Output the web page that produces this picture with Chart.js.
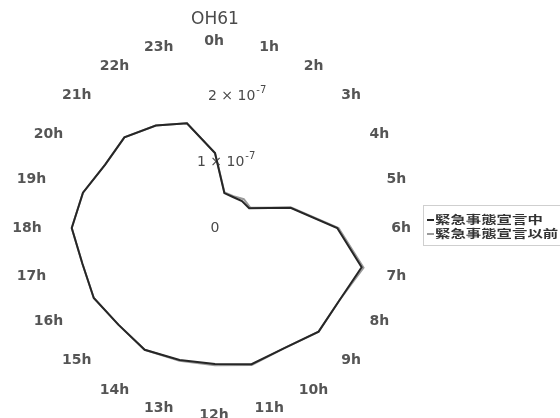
<!DOCTYPE html>
<html>
<head>
<meta charset="utf-8">
<script src="https://cdn.jsdelivr.net/npm/chart.js@4.4.1/dist/chart.umd.min.js"></script>
<style>
  html, body { margin: 0; padding: 0; background: #fff; }
  #wrap { width: 560px; height: 418px; position: relative; }
</style>
</head>
<body>
<div id="wrap"><canvas id="c" width="560" height="418"></canvas></div>
<script>
// Hour-of-day categories around the dial (clockwise from the top)
const hourLabels = ['0h','1h','2h','3h','4h','5h','6h','7h','8h','9h','10h','11h',
                    '12h','13h','14h','15h','16h','17h','18h','19h','20h','21h','22h','23h'];

// Mean level for each hour, during the state of emergency
const duringValues = [1.14e-7, 0.55e-7, 0.545e-7, 0.58e-7, 0.60e-7, 1.19e-7,
                      1.86e-7, 2.31e-7, 2.19e-7, 2.23e-7, 2.11e-7, 2.146e-7,
                      2.07e-7, 2.08e-7, 2.14e-7, 2.08e-7, 2.13e-7, 2.09e-7,
                      2.18e-7, 2.08e-7, 1.93e-7, 1.95e-7, 1.80e-7, 1.65e-7];

// Mean level for each hour, before the state of emergency
const beforeValues = [1.14e-7, 0.56e-7, 0.56e-7, 0.62e-7, 0.62e-7, 1.20e-7,
                      1.88e-7, 2.34e-7, 2.19e-7, 2.23e-7, 2.11e-7, 2.16e-7,
                      2.09e-7, 2.09e-7, 2.14e-7, 2.08e-7, 2.13e-7, 2.09e-7,
                      2.18e-7, 2.08e-7, 1.93e-7, 1.95e-7, 1.80e-7, 1.65e-7];

// Radial tick values and their printed form (mantissa, exponent)
const radialTicks = [0, 1e-7, 2e-7];
const radialTickText = [['0', ''], ['1 \u00d7 10', '-7'], ['2 \u00d7 10', '-7']];

const seriesNames = ['緊急事態宣言中', '緊急事態宣言以前'];

const TEXT = '#4a4a4a';
const SANS = '"DejaVu Sans", sans-serif';

const decorations = {
  id: 'decorations',
  beforeDatasetsDraw(chart) {
    const s = chart.scales.r;
    const ctx = chart.ctx;
    ctx.save();
    ctx.fillStyle = TEXT;
    ctx.textBaseline = 'middle';
    // horizontal shift of each tick label's left edge from the centre
    const leftShift = [0, -18, -7];
    radialTicks.forEach((v, i) => {
      const y = s.yCenter - s.getDistanceFromCenterForValue(v);
      const [main, sup] = radialTickText[i];
      ctx.font = '14px ' + SANS;
      if (!sup) {
        ctx.textAlign = 'center';
        ctx.fillText(main, s.xCenter, y);
        return;
      }
      ctx.textAlign = 'left';
      const x0 = s.xCenter + leftShift[i];
      ctx.fillText(main, x0, y);
      const w = ctx.measureText(main).width;
      ctx.font = '10px ' + SANS;
      ctx.fillText(sup, x0 + w + 1, y - 6);
    });
    ctx.restore();
  },
  afterDraw(chart) {
    const s = chart.scales.r;
    const ctx = chart.ctx;
    ctx.save();
    // hour labels around the dial, nudged sideways so they clear each other
    ctx.fillStyle = '#555';
    ctx.font = 'bold 14px ' + SANS;
    ctx.textAlign = 'center';
    ctx.textBaseline = 'middle';
    hourLabels.forEach((lab, i) => {
      const p = s.getPointPosition(i, s.drawingArea + 3);
      const a = i * Math.PI * 2 / hourLabels.length;
      const sx = Math.sin(a);
      const nudge = Math.abs(sx) < 1e-6 ? 0 : Math.sign(sx) * 7 * Math.abs(Math.cos(a));
      ctx.fillText(lab, p.x - 1 + nudge, p.y);
    });
    // title
    ctx.fillStyle = TEXT;
    ctx.font = '17px ' + SANS;
    ctx.fillText('OH61', s.xCenter, 20);

    // legend box
    const bx = 423, by = 205;
    ctx.strokeStyle = '#cfcfcf';
    ctx.lineWidth = 1;
    ctx.strokeRect(bx + 0.5, by + 0.5, 170, 40);
    const rows = [220, 234];
    chart.data.datasets.forEach((ds, i) => {
      const y = rows[i];
      ctx.strokeStyle = ds.borderColor;
      ctx.lineWidth = 2;
      ctx.beginPath();
      ctx.moveTo(427, y);
      ctx.lineTo(434, y);
      ctx.stroke();
      ctx.save();
      ctx.translate(435, y);
      ctx.scale(1.4, 1);
      ctx.fillStyle = '#333';
      ctx.font = 'bold 11px "Noto Sans CJK JP", sans-serif';
      ctx.textAlign = 'left';
      ctx.textBaseline = 'middle';
      ctx.fillText(ds.label, 0, 0);
      ctx.restore();
    });
    ctx.restore();
  }
};

new Chart(document.getElementById('c'), {
  type: 'radar',
  data: {
    labels: hourLabels,
    datasets: [
      { label: seriesNames[0], data: duringValues, borderColor: '#262626',
        borderWidth: 2, fill: false, pointRadius: 0, tension: 0 },
      { label: seriesNames[1], data: beforeValues, borderColor: '#9a9a9a',
        borderWidth: 2, fill: false, pointRadius: 0, tension: 0 }
    ]
  },
  options: {
    responsive: false,
    animation: false,
    devicePixelRatio: 1,
    layout: { padding: { left: 31, right: 161, top: 44, bottom: 6 } },
    plugins: { legend: { display: false }, title: { display: false }, tooltip: { enabled: false } },
    scales: {
      r: {
        min: 0,
        max: 2.8e-7,
        grid: { display: false },
        angleLines: { display: false },
        pointLabels: { display: false },
        ticks: { display: false, stepSize: 1e-7 }
      }
    }
  },
  plugins: [decorations]
});
</script>
</body>
</html>
